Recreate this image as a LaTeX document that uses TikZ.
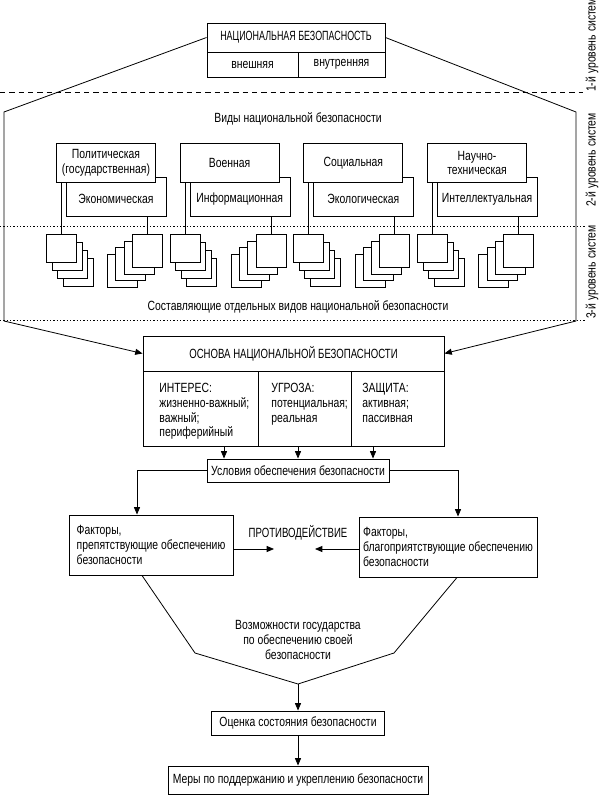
\documentclass[tikz,border=0pt]{standalone}
\usepackage{fontspec}
\setmainfont{Liberation Sans}[FakeStretch=0.78]
\newfontfamily\capsA{Liberation Sans}[FakeStretch=0.67]
\newfontfamily\capsB{Liberation Sans}[FakeStretch=0.72]
\usetikzlibrary{arrows.meta}
\newlength\upx
\setlength\upx{0.75pt}
\begin{document}
\begin{tikzpicture}[x=0.75pt,y=-0.75pt,line width=0.6pt,
  every node/.style={font=\fontsize{10}{11}\selectfont, inner sep=0pt},
  frame/.style={draw, line width=0.7pt, fill=white, inner sep=0pt},
  arr/.style={-{Triangle[length=5.5pt,width=4.5pt]}, line width=0.6pt},
  sqa/.style={draw, fill=white, line width=0.6pt, minimum width=30\upx, minimum height=28\upx, anchor=north west},
  sqb/.style={draw, fill=white, line width=0.6pt, minimum width=30\upx, minimum height=33\upx, anchor=north west},
  lvl/.style={rotate=90},
  dash1/.style={dash pattern=on 4pt off 3pt},
  dot1/.style={dash pattern=on 0.9pt off 1.6pt}]
\fill[white] (0,0) rectangle (600,795);
\useasboundingbox (0,0) rectangle (600,795);
% top
\node[frame, minimum width=178\upx, minimum height=29\upx, font=\capsA\fontsize{10}{11}\selectfont] (natl) at (296,37.5) {НАЦИОНАЛЬНАЯ БЕЗОПАСНОСТЬ};
\node[frame, minimum width=91\upx, minimum height=25\upx] (ext) at (252.5,64.5) {внешняя};
\node[frame, minimum width=87\upx, minimum height=25\upx] (int) at (341.5,64.5) {внутренняя};
% level labels
\node[lvl] (l1) at (592,45) {1-й уровень систем};
\node[lvl] (l2) at (592,160) {2-й уровень систем};
\node[lvl] (l3) at (592,272) {3-й уровень систем};
% separators
\draw[dash1] (0,92) -- (583,92);
\draw[dot1] (0,226) -- (586,226);
\draw[dot1] (0,320) -- (586,320);
% titles
\node (vid) at (298,119) {Виды национальной безопасности};
\node (sost) at (298,307) {Составляющие отдельных видов национальной безопасности};
% groups
\foreach \g/\ta/\tb in {0/{Политическая\\(государственная)}/Экономическая,1/Военная/Информационная,2/Социальная/Экологическая,3/{Научно-\\техническая}/Интеллектуальная}{
  \pgfmathsetmacro\X{56+123.7*\g}
  \node[frame, anchor=north west, minimum width=100\upx, minimum height=39\upx] (b\g) at (\X+10,177) {};
  \node (bt\g) at (\X+60,199) {\tb};
  \node[frame, anchor=north west, minimum width=99\upx, minimum height=39\upx, align=center] (f\g) at (\X,143) {\ta};
  \foreach \k in {3,2,1,0}{
    \node[sqa] (L\g\k) at (\X-10+5.5*\k, 234+8*\k) {};
  }
  \foreach \k in {3,2,1,0}{
    \node[sqb] (R\g\k) at (\X+76-8.3*\k, 234+6.7*\k) {};
  }
  \draw (L\g0.north |- f\g.south) -- (L\g0.north);
  \draw (R\g0.north |- b\g.south) -- (R\g0.north);
}
% base
\node[frame, minimum width=301\upx, minimum height=35\upx, font=\capsB\fontsize{10}{11}\selectfont] (base) at (293.5,353.5) {ОСНОВА НАЦИОНАЛЬНОЙ БЕЗОПАСНОСТИ};
\node[frame, anchor=north west, minimum width=115\upx, minimum height=75\upx] (c1) at (143,371) {};
\node[frame, anchor=north west, minimum width=93\upx, minimum height=75\upx] (c2) at (258,371) {};
\node[frame, anchor=north west, minimum width=93\upx, minimum height=75\upx] (c3) at (351,371) {};
\node[anchor=north west, align=left] (t1) at (159,383) {ИНТЕРЕС:\\жизненно-важный;\\важный;\\периферийный};
\node[anchor=north west, align=left] (t2) at (271,383) {УГРОЗА:\\потенциальная;\\реальная};
\node[anchor=north west, align=left] (t3) at (362,383) {ЗАЩИТА:\\активная;\\пассивная};
% hexagon
\coordinate (hl1) at (4,112); \coordinate (hl2) at (4,321);
\coordinate (hr1) at (576,112); \coordinate (hr2) at (576,321);
\draw (natl.west) -- (hl1) -- (hl2);
\draw[arr] (hl2) -- (base.west);
\draw (natl.east) -- (hr1) -- (hr2);
\draw[arr] (hr2) -- (base.east);
% conditions
\node[frame, minimum width=182\upx, minimum height=23\upx] (cond) at (298,470.5) {Условия обеспечения безопасности};
\foreach \i/\dx in {1/-74,2/0,3/75}{
  \coordinate (ca\i) at ([xshift=\dx\upx]cond.north);
  \draw[arr] (ca\i |- c1.south) -- (ca\i);
}
% factors
\node[frame, minimum width=164\upx, minimum height=60\upx, align=left] (fl) at (151,545) {Факторы,\\препятствующие обеспечению\\безопасности};
\node[frame, minimum width=178\upx, minimum height=60\upx, align=left] (fr) at (448,547) {Факторы,\\благоприятствующие обеспечению\\безопасности};
\coordinate (fla) at ([xshift=-14\upx]fl.north);
\coordinate (fra) at ([xshift=10\upx]fr.north);
\draw[arr] (cond.west) -| (fla);
\draw[arr] (cond.east) -| (fra);
\node[font=\capsB\fontsize{10}{11}\selectfont] (prot) at (298,533) {ПРОТИВОДЕЙСТВИЕ};
\coordinate (pl) at (274,549);
\coordinate (prr) at (315,549);
\draw[arr] (pl -| fl.east) -- (pl);
\draw[arr] (prr -| fr.west) -- (prr);
% V shape
\coordinate (va) at (142,575); \coordinate (vb) at (195,653); \coordinate (vc) at (298,684);
\coordinate (vd) at (394,653); \coordinate (ve) at (457,577);
\draw (va |- fl.south) -- (vb) -- (vc) -- (vd) -- (ve |- fr.south);
\node[align=center] (vz) at (298,640) {Возможности государства\\по обеспечению своей\\безопасности};
\node[frame, minimum width=173\upx, minimum height=24\upx] (oc) at (298,723) {Оценка состояния безопасности};
\node[frame, minimum width=260\upx, minimum height=28\upx] (mr) at (298,780) {Меры по поддержанию и укреплению безопасности};
\draw[arr] (vc) -- (oc.north);
\draw[arr] (oc.south) -- (mr.north);
\end{tikzpicture}
\end{document}
